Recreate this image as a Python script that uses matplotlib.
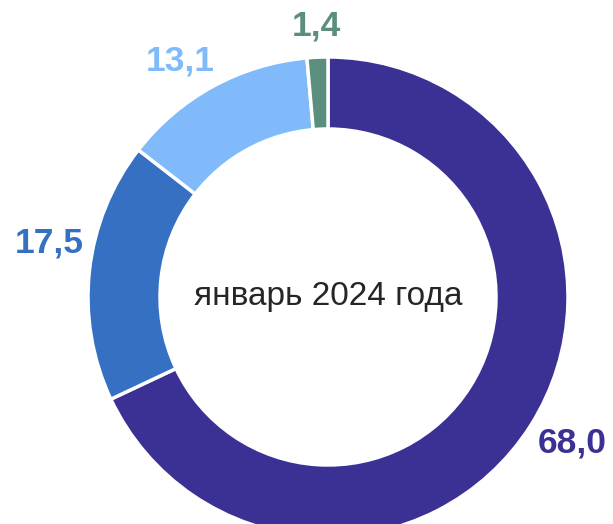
import matplotlib.pyplot as plt

categories = ["a", "b", "c", "d"]
values = [68.0, 17.5, 13.1, 1.4]
value_labels = ["68,0", "17,5", "13,1", "1,4"]
colors = ["#3b3194", "#3570c2", "#80bafa", "#5b8e7c"]
center_text = "январь 2024 года"

# small nudges of the value labels (pixels), to match the original layout
label_nudges = [(7, 4), (0, 23), (-13, -10), (1, -10)]

plt.rcParams["font.family"] = ["Liberation Sans", "DejaVu Sans"]

fig = plt.figure(figsize=(6.13, 5.24), dpi=100)
ax = fig.add_axes([0, 0, 1, 1])

cx, cy, r = 328, 227, 240
wedges, texts = ax.pie(
    values,
    labels=value_labels,
    colors=colors,
    startangle=90,
    counterclock=False,
    radius=r,
    center=(cx, cy),
    labeldistance=1.17,
    wedgeprops=dict(width=r * 0.3, edgecolor="white", linewidth=2.5),
    frame=True,
)
ax.set_xlim(0, 613)
ax.set_ylim(0, 524)
ax.axis("off")
ax.set_aspect("equal")

for t, c, (dx, dy) in zip(texts, colors, label_nudges):
    x, y = t.get_position()
    t.set_position((x + dx, y + dy))
    t.set_color(c)
    t.set_fontsize(25.5)
    t.set_fontweight("bold")
    t.set_ha("center")
    t.set_va("center")

ax.text(cx, cy + 1, center_text, ha="center", va="center", fontsize=24, color="#262626")

fig.savefig("out.png", dpi=100)
